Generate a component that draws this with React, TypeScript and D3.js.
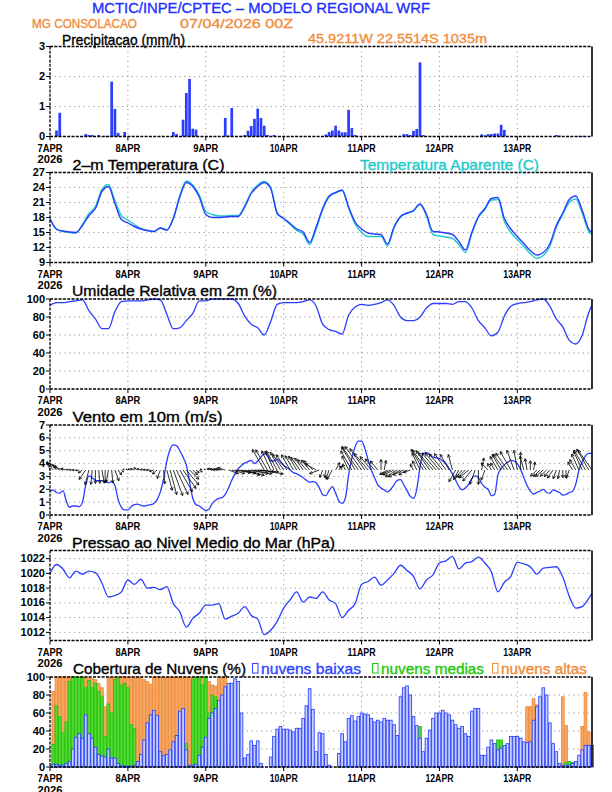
import * as d3 from "d3";

const FONT = "'Liberation Sans', Arial, Helvetica, sans-serif";
const BLUE = "#2b3dff";
const CYAN = "#1fcaca";
const ORANGE = "#f08c3a";
const GREEN = "#22c80c";

// ---- axis labels
const dayLabels = ["7APR", "8APR", "9APR", "10APR", "11APR", "12APR", "13APR"];
const dayHours = [0, 24, 48, 72, 96, 120, 144];
const yearLabel = "2026";

// ---- precipitation (mm/h), sparse hourly
const precipHours = [2, 3, 11, 12, 13, 15, 17, 18, 19, 20, 21, 23, 38, 39, 41, 42, 43, 44, 45, 54, 55, 56, 59, 60, 61, 62, 63, 64, 65, 66, 67, 69, 85, 86, 87, 88, 89, 90, 91, 92, 93, 94, 109, 110, 111, 112, 113, 114, 115, 133, 134, 135, 136, 137, 138, 139, 140, 156, 157, 163, 164];
const precipValues = [0.2, 0.79, 0.08, 0.05, 0.05, 0.05, 0.02, 0.02, 1.83, 0.92, 0.12, 0.15, 0.15, 0.08, 0.56, 1.45, 1.92, 0.26, 0.23, 0.62, 0.03, 0.95, 0.02, 0.05, 0.19, 0.35, 0.59, 0.93, 0.62, 0.36, 0.05, 0.05, 0.07, 0.15, 0.2, 0.36, 0.2, 0.14, 0.14, 0.89, 0.28, 0.05, 0.08, 0.08, 0.05, 0.19, 0.25, 2.47, 0.05, 0.07, 0.04, 0.08, 0.08, 0.1, 0.1, 0.39, 0.22, 0.05, 0.03, 0.02, 0.02];

// ---- 2-hourly series
const hours2 = d3.range(0, 168, 2).concat([167]);
const temperature = [17.8, 15.7, 15.3, 15.1, 15.0, 16.4, 18.4, 19.8, 23.2, 24.2, 20.8, 17.6, 16.9, 16.2, 15.7, 15.4, 15.2, 15.9, 15.5, 17.8, 22.1, 25.0, 24.2, 22.1, 18.6, 18.0, 18.0, 18.1, 18.2, 18.2, 20.1, 22.8, 24.2, 25.0, 23.8, 18.8, 17.8, 16.8, 15.7, 15.1, 13.0, 16.1, 19.8, 22.3, 23.0, 23.5, 20.1, 17.1, 15.7, 14.9, 14.7, 14.6, 12.7, 16.1, 18.2, 18.9, 19.4, 20.7, 18.6, 15.2, 15.1, 14.9, 14.6, 13.2, 11.5, 15.1, 18.2, 19.8, 21.8, 22.0, 17.8, 15.7, 14.2, 12.8, 11.4, 10.5, 11.0, 12.7, 16.4, 18.9, 21.6, 22.3, 19.4, 15.7, 15.0];
const apparentTemp = [17.6, 15.6, 15.2, 15.0, 14.9, 16.6, 18.8, 20.2, 23.6, 24.6, 21.4, 18.4, 17.5, 16.6, 15.8, 15.4, 15.2, 15.9, 15.5, 17.9, 22.4, 25.3, 24.5, 22.5, 19.2, 18.6, 18.3, 18.3, 18.4, 18.4, 20.4, 23.0, 24.5, 25.2, 24.0, 19.0, 17.8, 16.6, 15.4, 14.7, 12.6, 15.6, 19.5, 22.1, 22.9, 23.4, 19.9, 16.7, 15.0, 14.2, 14.2, 14.2, 12.3, 15.9, 18.1, 18.8, 19.3, 20.6, 18.3, 14.6, 14.3, 14.1, 13.8, 12.6, 11.0, 14.8, 18.0, 19.6, 21.5, 21.6, 17.2, 15.0, 13.6, 12.2, 10.8, 9.8, 10.4, 12.2, 16.0, 18.6, 21.0, 21.7, 18.8, 15.2, 14.6];
const humidity = [93, 96, 96, 97, 98, 99, 87, 78, 67, 67, 86, 97, 98, 98, 98, 99, 100, 99, 83, 67, 68, 76, 84, 98, 98, 100, 100, 100, 100, 95, 81, 72, 68, 60, 75, 94, 96, 96, 96, 97, 99, 92, 72, 66, 64, 61, 82, 91, 94, 93, 94, 96, 99, 93, 80, 76, 76, 80, 90, 95, 95, 95, 94, 97, 97, 90, 76, 68, 59, 63, 81, 92, 95, 96, 97, 99, 100, 92, 78, 69, 54, 50, 60, 85, 93];
const pressure = [1020.0, 1021.2, 1020.6, 1019.4, 1020.3, 1019.9, 1020.3, 1020.1, 1018.7, 1016.8, 1017.0, 1017.5, 1019.1, 1018.5, 1019.2, 1018.0, 1018.1, 1017.8, 1018.2, 1015.9, 1014.8, 1012.7, 1013.9, 1014.6, 1015.7, 1015.7, 1015.9, 1013.8, 1014.2, 1014.6, 1015.5, 1014.3, 1013.8, 1011.7, 1012.3, 1013.5, 1015.3, 1016.4, 1017.5, 1016.1, 1016.8, 1016.6, 1017.5, 1016.4, 1015.9, 1014.0, 1015.0, 1015.9, 1018.5, 1018.9, 1019.5, 1018.4, 1019.1, 1020.0, 1021.1, 1020.4, 1019.6, 1017.9, 1019.1, 1019.8, 1021.4, 1021.7, 1022.3, 1020.6, 1021.4, 1021.6, 1022.2, 1021.4, 1020.2, 1017.5, 1018.8, 1019.6, 1021.5, 1021.3, 1020.9, 1019.9, 1020.7, 1020.8, 1020.9, 1019.5, 1016.9, 1015.3, 1015.5, 1016.6, 1017.3];

// ---- hourly wind (m/s) and direction the arrow points to (deg, 0 = up)
const windSpeed = [
  1.8, 1.95, 1.75, 1.7, 1.9, 1.1, 0.6, 0.7, 0.7, 0.65, 1.0, 2.3, 3.05, 2.9, 2.7, 2.67, 2.67, 2.6, 2.5, 2.6, 2.3, 1.2, 0.6, 0.4,
  0.4, 0.65, 0.8, 0.85, 0.75, 0.7, 0.75, 0.8, 0.9, 1.2, 1.8, 2.8, 4.2, 5.1, 5.45, 5.4, 5.0, 4.5, 3.9, 2.6, 1.3, 0.8, 0.7, 0.5,
  0.35, 0.45, 0.9, 1.15, 1.3, 1.35, 1.6, 2.1, 2.7, 3.2, 3.6, 3.85, 4.05, 4.15, 4.25, 4.0, 4.2, 4.5, 4.75, 4.65, 4.2, 4.2, 4.35, 4.1,
  3.85, 3.7, 3.5, 3.3, 3.2, 3.07, 2.9, 2.7, 2.55, 2.6, 2.5, 2.1, 1.6, 1.5, 1.9, 2.2, 1.7, 1.1, 0.9, 1.3, 3.1, 4.4, 5.3, 5.75,
  5.75, 5.2, 4.3, 3.5, 2.9, 2.35, 2.1, 1.95, 1.8, 2.0, 2.35, 2.7, 2.75, 2.35, 1.9, 1.45, 1.3, 2.0, 3.7, 4.8, 4.85, 4.7, 4.5, 4.45,
  4.38, 4.2, 4.0, 3.6, 3.2, 2.7, 2.2, 1.95, 2.1, 2.4, 2.85, 3.05, 2.9, 2.45, 2.15, 2.0, 1.5, 1.6, 3.1, 3.6, 3.9, 4.1, 4.25, 4.2,
  4.0, 3.55, 2.9, 2.3, 1.85, 1.63, 1.75, 1.85, 2.0, 1.75, 1.7, 1.95, 1.85, 1.75, 1.55, 1.6, 1.75, 1.85, 2.4, 3.5, 4.15, 4.6, 4.8, 4.8,
];
const windDir = [
  340, 320, 315, 305, 290, 285, 280, 275, 270, 260, 235, 215, 195, 185, 180, 175, 170, 180, 190, 175, 160, 145, 130, 300,
  290, 285, 290, 300, 290, 280, 275, 270, 250, 230, 200, 175, 165, 165, 160, 155, 150, 145, 140, 135, 135, 130, 125, 290,
  295, 300, 290, 280, 275, 280, 285, 110, 105, 100, 100, 105, 105, 100, 100, 95, 95, 100, 330, 330, 335, 335, 330, 330,
  325, 325, 330, 330, 330, 325, 325, 320, 320, 315, 300, 250, 200, 190, 200, 210, 30, 40, 330, 335, 335, 330, 330, 325,
  325, 325, 320, 320, 320, 320, 0, 10, 240, 245, 245, 240, 240, 245, 240, 250, 330, 335, 335, 330, 325, 325, 320, 320,
  320, 320, 325, 330, 345, 210, 210, 220, 225, 230, 220, 200, 180, 10, 200, 315, 330, 330, 330, 330, 325, 325, 330, 340,
  350, 0, 345, 350, 0, 10, 225, 225, 230, 225, 220, 215, 200, 190, 180, 180, 200, 330, 330, 335, 335, 330, 330, 325,
];

// ---- hourly cloud cover (%), hours 1..167
const cloudHours = d3.range(1, 168);
const cloudLow = [
  3, 3, 2, 2, 4, 6, 20, 33, 37, 32, 58, 37, 32, 22, 14, 12, 11, 20, 10, 10, 4, 2, 1, 1,
  1, 2, 6, 14, 30, 49, 58, 63, 57, 17, 13, 14, 19, 28, 35, 62, 65, 19, 2, 2, 3, 13, 22, 33,
  54, 60, 65, 74, 80, 89, 93, 93, 98, 95, 60, 10, 14, 29, 24, 29, 4, 0, 0, 11, 34, 42, 45, 42,
  42, 41, 39, 43, 43, 54, 68, 87, 64, 17, 38, 37, 14, 2, 0, 0, 15, 37, 28, 54, 57, 51, 56, 60,
  59, 58, 54, 50, 52, 50, 54, 52, 52, 47, 35, 78, 88, 90, 80, 56, 46, 32, 17, 32, 41, 54, 60, 60,
  63, 60, 58, 52, 47, 43, 45, 37, 34, 62, 65, 65, 13, 13, 22, 30, 26, 19, 21, 24, 26, 34, 34, 34,
  32, 28, 27, 28, 52, 67, 78, 88, 80, 49, 26, 17, 4, 2, 2, 2, 4, 6, 13, 19, 24, 24, 24,
];
const cloudMid = [
  25, 68, 56, 38, 50, 95, 100, 100, 100, 100, 88, 96, 88, 93, 84, 78, 34, 70, 60, 97, 99, 91, 93, 88,
  47, 43, 0, 0, 0, 0, 0, 0, 0, 0, 0, 0, 0, 0, 0, 0, 0, 26, 0, 97, 100, 100, 91, 100,
  60, 80, 78, 70, 45, 15, 5, 2, 0, 0, 0, 0, 0, 0, 0, 0, 0, 0, 0, 0, 0, 0, 0, 0,
  0, 0, 0, 0, 0, 0, 0, 0, 0, 0, 0, 0, 0, 0, 0, 0, 6, 7, 0, 5, 0, 0, 0, 0,
  0, 0, 0, 0, 0, 0, 0, 0, 3, 3, 0, 0, 0, 4, 0, 0, 26, 45, 5, 0, 0, 0, 0, 0,
  0, 0, 0, 0, 0, 0, 0, 0, 0, 0, 0, 0, 0, 0, 0, 12, 20, 30, 30, 15, 0, 0, 0, 0,
  0, 0, 0, 0, 0, 0, 0, 0, 0, 0, 0, 0, 0, 0, 5, 6, 5, 6, 5, 0, 0, 0, 0,
];
const cloudHigh = [
  84, 100, 100, 100, 100, 100, 100, 100, 100, 100, 100, 99, 98, 97, 93, 88, 67, 100, 99, 100, 100, 100, 100, 100,
  100, 100, 100, 100, 97, 95, 92, 100, 100, 100, 100, 100, 100, 100, 100, 100, 100, 100, 100, 100, 100, 100, 100, 100,
  95, 91, 90, 100, 100, 99, 22, 0, 0, 0, 0, 0, 0, 0, 0, 0, 0, 0, 0, 0, 0, 0, 0, 0,
  0, 0, 0, 0, 0, 0, 0, 0, 0, 0, 0, 0, 0, 0, 0, 0, 0, 0, 0, 0, 0, 0, 0, 11,
  0, 0, 0, 0, 0, 0, 0, 0, 0, 0, 0, 0, 0, 0, 0, 0, 0, 0, 0, 0, 0, 0, 0, 0,
  0, 0, 0, 0, 0, 0, 0, 0, 0, 0, 0, 0, 0, 0, 0, 0, 0, 0, 0, 0, 0, 0, 0, 0,
  0, 0, 67, 67, 76, 69, 39, 19, 10, 18, 16, 0, 0, 78, 46, 0, 0, 0, 0, 45, 83, 39, 0,
];

const x = d3.scaleLinear().domain([0, 167]).range([50, 592]);
const PH = 90;
const tops = [46.5, 172.5, 299, 425, 550.5, 677];

type Y = d3.ScaleLinear<number, number>;

function Grid({ top, y, ticks }: { top: number; y: Y; ticks: number[] }) {
  const bottom = top + PH;
  return (
    <g stroke="#9a9a9a" strokeWidth={1} strokeDasharray="1.2,3.6">
      {dayHours.slice(1).map((h) => (
        <line key={"v" + h} x1={x(h)} x2={x(h)} y1={top} y2={bottom} />
      ))}
      {ticks.map((t) => {
        const yy = y(t);
        if (Math.abs(yy - top) < 1 || Math.abs(yy - bottom) < 1) return null;
        return <line key={"h" + t} x1={50} x2={592} y1={yy} y2={yy} />;
      })}
    </g>
  );
}

function Border({ top, y, ticks }: { top: number; y: Y; ticks: number[] }) {
  const bottom = top + PH;
  return (
    <g>
      <g stroke="#000" strokeWidth={1.3} strokeDasharray="3,1.3">
        <line x1={50} x2={592} y1={top} y2={top} />
        <line x1={50} x2={592} y1={bottom} y2={bottom} />
        <line x1={50} x2={50} y1={top} y2={bottom} />
      </g>
      <line x1={592} x2={592} y1={top} y2={bottom} stroke="#000" strokeWidth={1.6} />
      <g stroke="#000" strokeWidth={1}>
        {dayHours.map((h) => (
          <line key={h} x1={x(h)} x2={x(h)} y1={bottom} y2={bottom + 4} />
        ))}
        {ticks.map((t) => (
          <line key={t} x1={46} x2={50} y1={y(t)} y2={y(t)} />
        ))}
      </g>
      <g fontFamily={FONT} fontWeight={700} fontSize={11} fill="#000" textAnchor="end">
        {ticks.map((t) => (
          <text key={t} x={45} y={y(t) + 3.5}>
            {t}
          </text>
        ))}
      </g>
      <g fontFamily={FONT} fontWeight={700} fontSize={11.5} fill="#000" textAnchor="middle">
        {dayHours.map((h, i) => (
          <text
            key={h}
            x={x(h)}
            y={bottom + 15}
            textLength={dayLabels[i].length > 4 ? 28 : 25}
            lengthAdjust="spacingAndGlyphs"
          >
            {dayLabels[i]}
          </text>
        ))}
        <text x={x(0)} y={bottom + 26.5} textLength={25} lengthAdjust="spacingAndGlyphs">
          {yearLabel}
        </text>
      </g>
    </g>
  );
}

function Title({ x0, y0, w, color = "#000", size = 14.5, children }: any) {
  return (
    <text
      x={x0}
      y={y0}
      fontFamily={FONT}
      fontSize={size}
      fill={color}
      stroke={color}
      strokeWidth={0.35}
      textLength={w}
      lengthAdjust="spacingAndGlyphs"
    >
      {children}
    </text>
  );
}

export default function App() {
  const yP = d3.scaleLinear().domain([0, 3]).range([tops[0] + PH, tops[0]]);
  const yT = d3.scaleLinear().domain([9, 27]).range([tops[1] + PH, tops[1]]);
  const yR = d3.scaleLinear().domain([0, 100]).range([tops[2] + PH, tops[2]]);
  const yW = d3.scaleLinear().domain([0, 7]).range([tops[3] + PH, tops[3]]);
  const yM = d3.scaleLinear().domain([1010.9, 1023.1]).range([tops[4] + PH, tops[4]]);
  const yC = d3.scaleLinear().domain([0, 100]).range([tops[5] + PH, tops[5]]);

  const tP = [0, 1, 2, 3];
  const tT = d3.range(9, 28, 3);
  const tR = d3.range(0, 101, 20);
  const tW = d3.range(0, 8, 1);
  const tM = d3.range(1012, 1023, 2);
  const tC = d3.range(0, 101, 20);

  const line2 = (y: Y) =>
    d3
      .line<number>()
      .x((_, i) => x(hours2[i]))
      .y((d) => y(d))
      .curve(d3.curveMonotoneX);

  const lineHourly = (y: Y) =>
    d3
      .line<number>()
      .x((_, i) => x(i))
      .y((d) => y(d))
      .curve(d3.curveMonotoneX);

  // wind vectors, tail on the 3.5 m/s line
  const K = 5;
  const y35 = yW(3.5);
  const arrows = windSpeed.map((s, i) => {
    const a = (windDir[i] * Math.PI) / 180;
    const x0 = x(i);
    const len = s * K;
    const x1 = x0 + len * Math.sin(a);
    const y1 = y35 - len * Math.cos(a);
    const hl = Math.min(3.2, len * 0.45);
    const b = a + Math.PI;
    const hx1 = x1 + hl * Math.sin(b - 0.5);
    const hy1 = y1 - hl * Math.cos(b - 0.5);
    const hx2 = x1 + hl * Math.sin(b + 0.5);
    const hy2 = y1 - hl * Math.cos(b + 0.5);
    return `M${x0},${y35}L${x1},${y1}M${hx1},${hy1}L${x1},${y1}L${hx2},${hy2}`;
  });

  const bw = 2.7;
  const cloudBars = (vals: number[], fill: string, stroke: string) =>
    vals.map((v, i) =>
      v > 0 ? (
        <rect
          key={i}
          x={x(cloudHours[i]) - bw / 2}
          y={yC(v)}
          width={bw}
          height={yC(0) - yC(v)}
          fill={fill}
          stroke={stroke}
          strokeWidth={0.9}
        />
      ) : null
    );

  return (
    <svg
      width={612}
      height={792}
      style={{ position: "absolute", left: 0, top: 0, background: "#fff" }}
    >
      <rect width={612} height={792} fill="#fff" />

      {/* header */}
      <Title x0={92} y0={13} w={338} color="#1f2fff" size={15}>
        MCTIC/INPE/CPTEC – MODELO REGIONAL WRF
      </Title>
      <Title x0={32} y0={28} w={105} color={ORANGE} size={13}>
        MG CONSOLACAO
      </Title>
      <Title x0={180} y0={28} w={113} color={ORANGE} size={13}>
        07/04/2026 00Z
      </Title>
      <Title x0={308} y0={42.5} w={179} color={ORANGE} size={13.5}>
        45.9211W 22.5514S 1035m
      </Title>

      {/* precipitation */}
      <Grid top={tops[0]} y={yP} ticks={tP} />
      {precipHours.map((h, i) => (
        <rect
          key={h}
          x={x(h) - 1.35}
          y={yP(precipValues[i])}
          width={2.7}
          height={yP(0) - yP(precipValues[i])}
          fill={BLUE}
        />
      ))}
      <Border top={tops[0]} y={yP} ticks={tP} />
      <Title x0={62} y0={44.5} w={123}>
        Precipitacao (mm/h)
      </Title>

      {/* temperature */}
      <Grid top={tops[1]} y={yT} ticks={tT} />
      <path d={line2(yT)(apparentTemp)!} fill="none" stroke={CYAN} strokeWidth={1.4} />
      <path d={line2(yT)(temperature)!} fill="none" stroke={BLUE} strokeWidth={1.4} />
      <Border top={tops[1]} y={yT} ticks={tT} />
      <Title x0={72.5} y0={169.5} w={152}>
        2–m Temperatura (C)
      </Title>
      <Title x0={360} y0={169.5} w={179} color={CYAN}>
        Temperatura Aparente (C)
      </Title>

      {/* humidity */}
      <Grid top={tops[2]} y={yR} ticks={tR} />
      <path d={line2(yR)(humidity)!} fill="none" stroke={BLUE} strokeWidth={1.3} />
      <Border top={tops[2]} y={yR} ticks={tR} />
      <Title x0={72} y0={295.5} w={205}>
        Umidade Relativa em 2m (%)
      </Title>

      {/* wind */}
      <Grid top={tops[3]} y={yW} ticks={tW} />
      <path d={lineHourly(yW)(windSpeed)!} fill="none" stroke={BLUE} strokeWidth={1.3} />
      <path d={arrows.join("")} fill="none" stroke="#000" strokeWidth={0.8} />
      <Border top={tops[3]} y={yW} ticks={tW} />
      <Title x0={72.5} y0={421.5} w={150}>
        Vento em 10m (m/s)
      </Title>

      {/* pressure */}
      <Grid top={tops[4]} y={yM} ticks={tM} />
      <path d={line2(yM)(pressure)!} fill="none" stroke={BLUE} strokeWidth={1.3} />
      <Border top={tops[4]} y={yM} ticks={tM} />
      <Title x0={72} y0={547.5} w={263}>
        Pressao ao Nivel Medio do Mar (hPa)
      </Title>

      {/* clouds */}
      <Grid top={tops[5]} y={yC} ticks={tC} />
      <g>{cloudBars(cloudHigh, "#f6a866", "#f08c3a")}</g>
      <g>{cloudBars(cloudMid, "#56d838", GREEN)}</g>
      <g>{cloudBars(cloudLow, "#c9d0fc", "#2f45ff")}</g>
      <Border top={tops[5]} y={yC} ticks={tC} />
      <Title x0={73} y0={674} w={173}>
        Cobertura de Nuvens (%)
      </Title>
      <rect x={252.5} y={663.5} width={5.5} height={9.5} fill="none" stroke="#2f45ff" strokeWidth={1} />
      <Title x0={261} y0={674} w={100} color="#2f45ff">
        nuvens baixas
      </Title>
      <rect x={372.5} y={663.5} width={5.5} height={9.5} fill="none" stroke={GREEN} strokeWidth={1} />
      <Title x0={381} y0={674} w={103} color={GREEN}>
        nuvens medias
      </Title>
      <rect x={492.5} y={663.5} width={5.5} height={9.5} fill="none" stroke={ORANGE} strokeWidth={1} />
      <Title x0={501} y0={674} w={86} color={ORANGE}>
        nuvens altas
      </Title>
    </svg>
  );
}
